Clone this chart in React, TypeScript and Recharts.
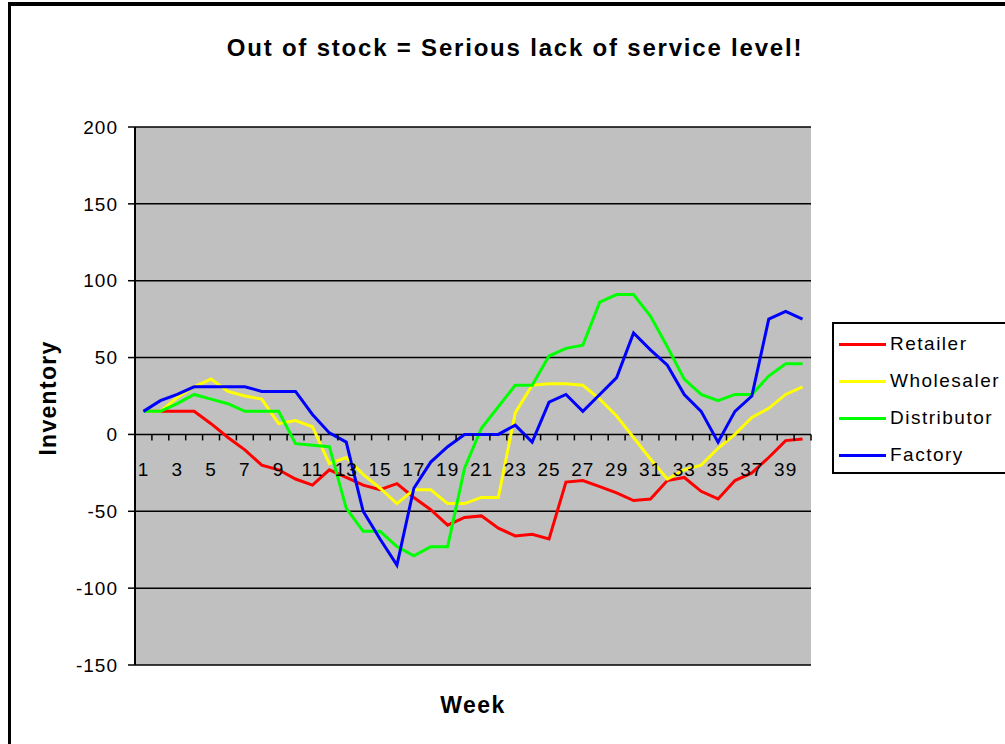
import { CartesianGrid, Label, Legend, Line, LineChart, XAxis, YAxis } from 'recharts'

const weeks = [
  '1', '2', '3', '4', '5', '6', '7', '8', '9', '10',
  '11', '12', '13', '14', '15', '16', '17', '18', '19', '20',
  '21', '22', '23', '24', '25', '26', '27', '28', '29', '30',
  '31', '32', '33', '34', '35', '36', '37', '38', '39', '40',
]

const retailer = [
  15, 15, 15, 15, 7, -2, -10, -20, -23, -29,
  -33, -23, -28, -33, -36, -32, -41, -49, -59, -54,
  -53, -61, -66, -65, -68, -31, -30, -34, -38, -43,
  -42, -30, -28, -37, -42, -30, -25, -15, -4, -3,
]

const wholesaler = [
  15, 15, 24, 31, 36, 28, 25, 23, 7, 9,
  5, -19, -15, -26, -35, -45, -36, -36, -45, -45,
  -41, -41, 14, 32, 33, 33, 32, 23, 12, -2,
  -16, -29, -23, -20, -9, 0, 11, 17, 26, 31,
]

const distributor = [
  15, 15, 20, 26, 23, 20, 15, 15, 15, -6,
  -7, -8, -48, -63, -63, -73, -79, -73, -73, -22,
  4, 18, 32, 32, 51, 56, 58, 86, 91, 91,
  77, 57, 36, 26, 22, 26, 26, 38, 46, 46,
]

const factory = [
  15, 22, 26, 31, 31, 31, 31, 28, 28, 28,
  13, 1, -5, -50, -68, -85, -35, -18, -8, 0,
  0, 0, 6, -5, 21, 26, 15, 26, 37, 66,
  55, 45, 26, 15, -5, 15, 25, 75, 80, 75,
]

const yTicks = [-150, -100, -50, 0, 50, 100, 150, 200]

const series = [
  { key: 'Retailer', color: '#ff0000' },
  { key: 'Wholesaler', color: '#ffff00' },
  { key: 'Distributor', color: '#00ff00' },
  { key: 'Factory', color: '#0000ff' },
]

const rows = weeks.map((week, i) => ({
  week,
  Retailer: retailer[i],
  Wholesaler: wholesaler[i],
  Distributor: distributor[i],
  Factory: factory[i],
}))

const FONT = '"Liberation Sans", Arial, sans-serif'
const W = 1005
const H = 744
const margin = { top: 127, right: 194, bottom: 0, left: 0 }
const X_AXIS_H = 79
const Y_AXIS_W = 135
const plotW = W - margin.right - Y_AXIS_W
const plotH = H - margin.top - X_AXIS_H
const band = plotW / weeks.length
const zeroY = margin.top + (plotH * yTicks[yTicks.length - 1]) / (yTicks[yTicks.length - 1] - yTicks[0])

// Excel-style category axis: ticks between categories on the zero line, every 2nd label
function WeekTick(props: any) {
  const { x, payload, index } = props
  return (
    <g>
      <line x1={x + band / 2} x2={x + band / 2} y1={zeroY} y2={zeroY + 6} stroke="#000" strokeWidth={1.5} />
      {index % 2 === 0 && (
        <text x={x} y={zeroY + 42} textAnchor="middle" fill="#000" fontSize={19} fontFamily={FONT} style={{ letterSpacing: 1 }}>
          {payload.value}
        </text>
      )}
    </g>
  )
}

function LegendBox() {
  return (
    <div
      style={{
        position: 'absolute',
        left: 0,
        top: 0,
        width: 190,
        height: 148,
        border: '2px solid #000',
        background: '#fff',
        fontFamily: FONT,
        fontSize: 19,
        letterSpacing: 1.5,
        color: '#000',
      }}
    >
      {series.map((s, i) => (
        <div key={s.key} style={{ position: 'absolute', left: 5, top: 7 + i * 37.1, height: 26, display: 'flex', alignItems: 'center' }}>
          <span style={{ display: 'inline-block', width: 47, height: 3, background: s.color }} />
          <span style={{ marginLeft: 4, whiteSpace: 'nowrap' }}>{s.key}</span>
        </div>
      ))}
    </div>
  )
}

export default function App() {
  return (
    <div style={{ position: 'fixed', left: 0, top: 0, width: W, height: H, overflow: 'hidden', background: '#fff' }}>
      <div style={{ position: 'absolute', left: 8, top: 2, width: W, height: H, borderLeft: '3px solid #000', borderTop: '4px solid #000' }} />
      <div
        style={{
          position: 'absolute',
          left: 0,
          width: 1030,
          top: 36,
          textAlign: 'center',
          fontFamily: FONT,
          fontWeight: 'bold',
          fontSize: 24,
          lineHeight: '24px',
          letterSpacing: 1.8,
          color: '#000',
          whiteSpace: 'nowrap',
        }}
      >
        Out of stock = Serious lack of service level!
      </div>
      <div style={{ position: 'absolute', left: 0, top: 0 }}>
        <LineChart width={W} height={H} data={rows} margin={margin}>
          <CartesianGrid horizontal vertical={false} fill="#c0c0c0" fillOpacity={1} stroke="#000" strokeWidth={1.5} />
          <XAxis
            dataKey="week"
            interval={0}
            axisLine={false}
            tickLine={false}
            tick={WeekTick}
            height={X_AXIS_H}
            padding={{ left: band / 2, right: band / 2 }}
          >
            <Label
              content={() => (
                <text
                  x={Y_AXIS_W + plotW / 2}
                  y={713}
                  textAnchor="middle"
                  fontFamily={FONT}
                  fontWeight="bold"
                  fontSize={23}
                  fill="#000"
                  style={{ letterSpacing: 1.5 }}
                >
                  Week
                </text>
              )}
            />
          </XAxis>
          <YAxis
            domain={[yTicks[0], yTicks[yTicks.length - 1]]}
            ticks={yTicks}
            interval={0}
            width={Y_AXIS_W}
            tickSize={7}
            tickMargin={10}
            axisLine={{ stroke: '#000', strokeWidth: 2 }}
            tickLine={{ stroke: '#000', strokeWidth: 1.5 }}
            tick={{ fill: '#000', fontSize: 19, fontFamily: FONT, style: { letterSpacing: 1 } }}
          >
            <Label
              content={() => (
                <text
                  x={0}
                  y={0}
                  transform={`translate(56, ${margin.top + plotH / 2 + 2}) rotate(-90)`}
                  textAnchor="middle"
                  fontFamily={FONT}
                  fontWeight="bold"
                  fontSize={23}
                  fill="#000"
                  style={{ letterSpacing: 1.3 }}
                >
                  Inventory
                </text>
              )}
            />
          </YAxis>
          <YAxis
            yAxisId="frame"
            orientation="right"
            width={0}
            domain={[yTicks[0], yTicks[yTicks.length - 1]]}
            tick={false}
            tickLine={false}
            axisLine={{ stroke: '#808080', strokeWidth: 2 }}
          />
          <Legend
            layout="vertical"
            align="center"
            verticalAlign="middle"
            content={LegendBox}
            wrapperStyle={{ left: 832, top: 322, width: 200, height: 152 }}
          />
          {series.map((s) => (
            <Line
              key={s.key}
              type="linear"
              dataKey={s.key}
              stroke={s.color}
              strokeWidth={3}
              dot={false}
              isAnimationActive={false}
            />
          ))}
        </LineChart>
      </div>
    </div>
  )
}
